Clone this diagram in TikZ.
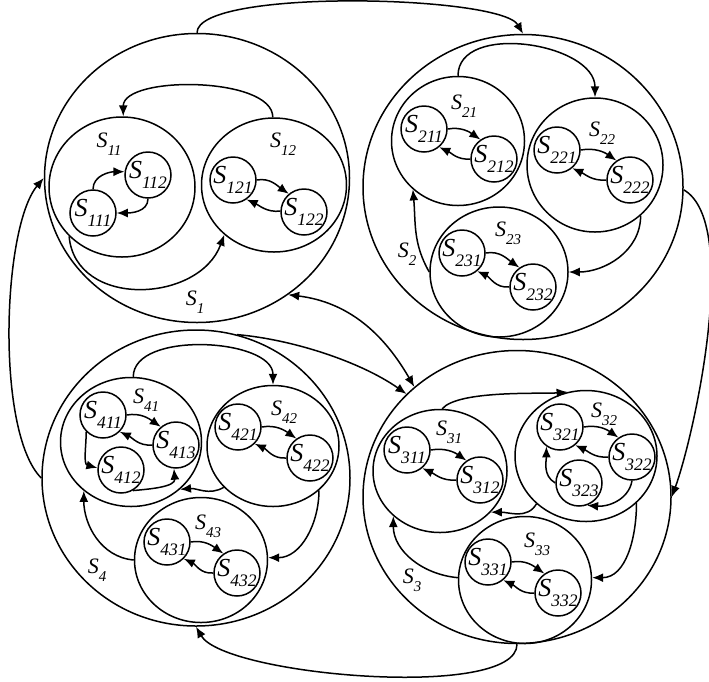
\documentclass[tikz,border=0pt]{standalone}
\usepackage{fontspec}
\setmainfont{Liberation Serif}
\usetikzlibrary{arrows.meta,shapes.geometric}
\newcommand{\grpname}[1]{\textit{S}\raisebox{-8pt}{\fontsize{15}{15}\selectfont\textit{#1}}}
\newcommand{\statename}[1]{\textit{S}\raisebox{-10pt}{\fontsize{17.5}{17.5}\selectfont\textit{#1}}}
\tikzset{
  hssystem/.style={
    ellipse, draw=black, line width=1.5pt, inner sep=0pt
  },
  hsgroup/.style={
    ellipse, draw=black, line width=1.5pt, inner sep=0pt
  },
  hsstate/.style={
    circle, draw=black, line width=1.5pt,
    minimum size=46pt, inner sep=-5pt, font=\fontsize{26}{26}\selectfont
  },
  hslabel/.style={inner sep=0pt,font=\fontsize{22}{22}\selectfont},
  hsedge/.style={-{Latex[length=11pt,width=9pt]},line width=1.5pt},
  hsboth/.style={{Latex[length=11pt,width=9pt]}-{Latex[length=11pt,width=9pt]},line width=1.5pt}
}

\begin{document}
\begin{tikzpicture}[x=1pt,y=1pt]
\useasboundingbox (0,0) rectangle (709,-681);

% S1: two groups of two states
\node[hssystem,minimum width=305pt,minimum height=289pt] (s1) at (197,-178) {};
\node[hsgroup,minimum width=146pt,minimum height=140pt] (s11) at (122,-187) {};
\node[hsgroup,minimum width=145pt,minimum height=134pt] (s12) at (274,-185) {};
\node[hsstate] (s111) at (93,-213) {\statename{111}};
\node[hsstate] (s112) at (148,-175) {\statename{112}};
\node[hsstate] (s121) at (233,-180) {\statename{121}};
\node[hsstate] (s122) at (304,-212) {\statename{122}};
\node[hslabel] (l1) at (195,-302) {\grpname{1}};
\node[hslabel] (l11) at (109,-144) {\grpname{11}};
\node[hslabel] (l12) at (283,-144) {\grpname{12}};
\draw[hsedge] (s12.91) to[out=90,in=90,looseness=0.7] (s11.89);
\draw[hsedge] (s11.223) to[out=-85,in=-110,looseness=1.2] (s12.225);
\draw[hsedge] (s111.90) to[out=90,in=180] (s112.172);
\draw[hsedge] (s112.-90) to[out=-90,in=0] (s111.0);
\draw[hsedge] (s121.0) to[out=10,in=145] (s122.130);
\draw[hsedge] (s122.178) to[out=185,in=-25] (s121.-55);

% S2: three groups
\node[hssystem,minimum width=320pt,minimum height=305pt] (s2) at (523,-187) {};
\node[hsgroup,minimum width=133pt,minimum height=129pt] (s21) at (458,-141) {};
\node[hsgroup,minimum width=136pt,minimum height=134pt] (s22) at (595,-165) {};
\node[hsgroup,minimum width=138pt,minimum height=130pt] (s23) at (499,-272) {};
\node[hsstate] (s211) at (424,-129) {\statename{211}};
\node[hsstate] (s212) at (494,-159) {\statename{212}};
\node[hsstate] (s221) at (557,-150) {\statename{221}};
\node[hsstate] (s222) at (630,-180) {\statename{222}};
\node[hsstate] (s231) at (462,-253) {\statename{231}};
\node[hsstate] (s232) at (533,-287) {\statename{232}};
\node[hslabel] (l2) at (407,-254) {\grpname{2}};
\node[hslabel] (l21) at (464,-106) {\grpname{21}};
\node[hslabel] (l22) at (602,-133) {\grpname{22}};
\node[hslabel] (l23) at (508,-233) {\grpname{23}};
\draw[hsedge] (s21.90) to[out=90,in=90,looseness=1] (s22.90);
\draw[hsedge] (s22.-48) to[out=-90,in=0] (s23.0);
\draw[hsedge] (s23.180) to[out=120,in=-85] (s21.-133);
\draw[hsedge] (s211.0) to[out=10,in=145] (s212.125);
\draw[hsedge] (s212.180) to[out=185,in=-25] (s211.-50);
\draw[hsedge] (s221.0) to[out=10,in=145] (s222.125);
\draw[hsedge] (s222.180) to[out=185,in=-25] (s221.-50);
\draw[hsedge] (s231.0) to[out=10,in=145] (s232.125);
\draw[hsedge] (s232.180) to[out=185,in=-25] (s231.-50);

% S3: three groups, one of them with three states
\node[hssystem,minimum width=308pt,minimum height=293pt] (s3) at (517,-497) {};
\node[hsgroup,minimum width=134pt,minimum height=123pt] (s31) at (440,-471) {};
\node[hsgroup,minimum width=142pt,minimum height=131pt] (s32) at (586,-456) {};
\node[hsgroup,minimum width=133pt,minimum height=127pt] (s33) at (525,-580) {};
\node[hsstate] (s311) at (407,-450) {\statename{311}};
\node[hsstate] (s312) at (480,-480) {\statename{312}};
\node[hsstate] (s321) at (560,-427) {\statename{321}};
\node[hsstate] (s322) at (632,-457) {\statename{322}};
\node[hsstate] (s323) at (579,-483) {\statename{323}};
\node[hsstate] (s331) at (488,-562) {\statename{331}};
\node[hsstate] (s332) at (558,-593) {\statename{332}};
\node[hslabel] (l3) at (412,-580) {\grpname{3}};
\node[hslabel] (l31) at (449,-432) {\grpname{31}};
\node[hslabel] (l32) at (604,-414) {\grpname{32}};
\node[hslabel] (l33) at (537,-544) {\grpname{33}};
\draw[hsedge] (s31.88) to[out=50,in=185,looseness=0.5] (s32.106);
\draw[hsedge] (s32.-136) to[out=-120,in=0] (s31.-39);
\draw[hsedge] (s32.-43) to[out=-90,in=0] (s33.2);
\draw[hsedge] (s33.178) to[out=175,in=-90] (s31.-136);
\draw[hsedge] (s311.0) to[out=10,in=145] (s312.125);
\draw[hsedge] (s312.180) to[out=185,in=-25] (s311.-50);
\draw[hsedge] (s321.0) to[out=10,in=145] (s322.125);
\draw[hsedge] (s322.180) to[out=185,in=-25] (s321.-50);
\draw[hsedge] (s323.180) to[out=150,in=-90] (s321.-125);
\draw[hsedge] (s322.-90) to[out=-100,in=-5] (s323.-70);
\draw[hsedge] (s331.0) to[out=10,in=145] (s332.125);
\draw[hsedge] (s332.180) to[out=185,in=-25] (s331.-50);

% S4: three groups, one of them with three states
\node[hssystem,minimum width=308pt,minimum height=296pt] (s4) at (196,-478) {};
\node[hsgroup,minimum width=141pt,minimum height=129pt] (s41) at (131,-442) {};
\node[hsgroup,minimum width=132pt,minimum height=121pt] (s42) at (273,-446) {};
\node[hsgroup,minimum width=133pt,minimum height=125pt] (s43) at (201,-560) {};
\node[hsstate] (s411) at (103,-415) {\statename{411}};
\node[hsstate] (s412) at (121,-470) {\statename{412}};
\node[hsstate] (s413) at (176,-445) {\statename{413}};
\node[hsstate] (s421) at (238,-427) {\statename{421}};
\node[hsstate] (s422) at (310,-458) {\statename{422}};
\node[hsstate] (s431) at (167,-542) {\statename{431}};
\node[hsstate] (s432) at (237,-573) {\statename{432}};
\node[hslabel] (l4) at (97,-570) {\grpname{4}};
\node[hslabel] (l41) at (146,-400) {\grpname{41}};
\node[hslabel] (l42) at (284,-412) {\grpname{42}};
\node[hslabel] (l43) at (208,-526) {\grpname{43}};
\draw[hsedge] (s41.88) to[out=90,in=90,looseness=0.85] (s42.90);
\draw[hsedge] (s42.-140) to[out=-150,in=5] (s41.-44);
\draw[hsedge] (s42.-44) to[out=-90,in=0] (s43.2);
\draw[hsedge] (s43.180) to[out=175,in=-90] (s41.-134);
\draw[hsedge] (s411.0) to[out=10,in=145] (s413.130);
\draw[hsedge] (s413.180) to[out=185,in=-25] (s411.-45);
\draw[hsedge] (s411.-135) to[out=-90,in=165] (s412.175);
\draw[hsedge] (s412.-60) to[out=5,in=-85] (s413.-95);
\draw[hsedge] (s421.0) to[out=10,in=145] (s422.125);
\draw[hsedge] (s422.180) to[out=185,in=-25] (s421.-45);
\draw[hsedge] (s431.0) to[out=10,in=145] (s432.125);
\draw[hsedge] (s432.180) to[out=185,in=-25] (s431.-45);

% transitions between the four systems
\draw[hsedge] (s1.90) to[out=90,in=120,looseness=0.35] (s2.90);
\draw[hsedge] (s2.-1) to[out=-30,in=70,looseness=0.55] (s3.0);
\draw[hsedge] (s3.-90) to[out=-90,in=-60,looseness=0.45] (s4.-90);
\draw[hsedge] (s4.180) to[out=135,in=-130,looseness=0.55] (s1.180);
\draw[hsboth] (s1.-52) to[out=-7,in=120] (s3.133);
\draw[hsedge] (s4.74) to[out=-5,in=145,looseness=0.8] (s3.137);
\end{tikzpicture}
\end{document}
